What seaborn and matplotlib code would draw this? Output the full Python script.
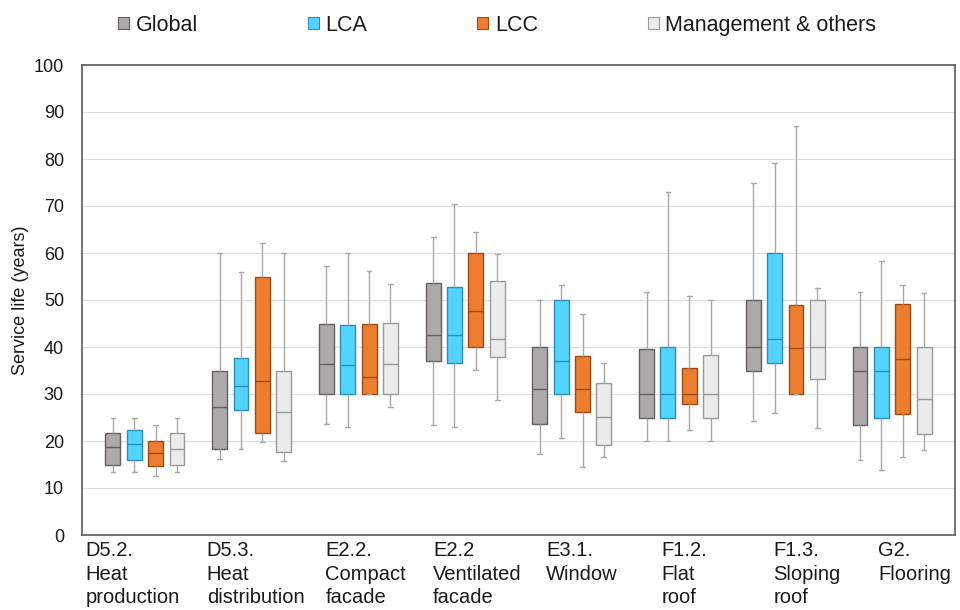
import numpy as np
import pandas as pd
import matplotlib
matplotlib.use("Agg")
import matplotlib.pyplot as plt
import seaborn as sns
from matplotlib.patches import Patch
from matplotlib.transforms import blended_transform_factory

categories = [
    "D5.2.\nHeat\nproduction",
    "D5.3.\nHeat\ndistribution",
    "E2.2.\nCompact\nfacade",
    "E2.2\nVentilated\nfacade",
    "E3.1.\nWindow",
    "F1.2.\nFlat\nroof",
    "F1.3.\nSloping\nroof",
    "G2.\nFlooring",
]
series = ["Global", "LCA", "LCC", "Management & others"]

# five-number summaries per category: [min, Q1, median, Q3, max]
global_stats = [
    [13.3, 15.0, 18.7, 21.8, 25.0],
    [16.2, 18.4, 27.2, 35.0, 60.0],
    [23.6, 30.0, 36.3, 45.0, 57.3],
    [23.5, 37.0, 42.6, 53.7, 63.5],
    [17.2, 23.7, 31.1, 40.0, 50.1],
    [19.9, 25.0, 30.0, 39.6, 51.6],
    [24.2, 34.8, 40.0, 50.0, 74.9],
    [15.9, 23.4, 35.0, 40.0, 51.6],
]
lca_stats = [
    [13.5, 16.0, 19.4, 22.3, 25.0],
    [18.2, 26.7, 31.8, 37.6, 56.0],
    [23.0, 30.0, 36.2, 44.6, 60.0],
    [23.0, 36.5, 42.6, 52.7, 70.4],
    [20.6, 30.0, 37.0, 50.0, 53.1],
    [19.9, 25.0, 30.0, 40.0, 72.9],
    [26.0, 36.7, 41.8, 60.0, 79.2],
    [13.9, 25.0, 35.0, 40.0, 58.4],
]
lcc_stats = [
    [12.6, 14.6, 17.5, 19.9, 23.3],
    [19.7, 21.6, 32.8, 55.0, 62.1],
    [30.0, 30.0, 33.6, 45.0, 56.1],
    [35.2, 40.0, 47.6, 60.0, 64.4],
    [14.4, 26.2, 31.1, 38.0, 47.0],
    [22.4, 27.8, 30.0, 35.5, 50.9],
    [30.0, 30.0, 39.7, 48.9, 87.1],
    [16.5, 25.8, 37.4, 49.2, 53.1],
]
mgmt_stats = [
    [13.3, 15.0, 18.4, 21.6, 25.0],
    [15.7, 17.7, 26.1, 35.0, 60.0],
    [27.2, 30.0, 36.3, 45.2, 53.5],
    [28.7, 37.8, 41.6, 54.0, 59.7],
    [16.5, 19.1, 25.1, 32.3, 36.5],
    [19.9, 25.0, 30.0, 38.3, 50.0],
    [22.7, 33.2, 40.0, 50.0, 52.6],
    [18.0, 21.4, 28.9, 40.0, 51.5],
]

fill_colors = {"Global": "#aeaaaa", "LCA": "#55d3ff", "LCC": "#ed7d31",
               "Management & others": "#ebebeb"}
edge_colors = {"Global": "#646060", "LCA": "#2b8db2", "LCC": "#9c4a16",
               "Management & others": "#9a9a9a"}

# Long-form table: each five-number summary as five observations
rows = []
for s, stats in zip(series, [global_stats, lca_stats, lcc_stats, mgmt_stats]):
    for cat, five in zip(categories, stats):
        for v in five:
            rows.append({"category": cat, "series": s, "value": v})
df = pd.DataFrame(rows)

sns.set_theme(style="white")
plt.rcParams["font.family"] = ["Liberation Sans", "DejaVu Sans"]

fig = plt.figure(figsize=(9.6, 6.1), dpi=100)
ax = fig.add_axes([82 / 960, 75 / 610, 873 / 960, 470 / 610])

for s in series:
    sns.boxplot(
        data=df[df["series"] == s], x="category", y="value", hue="series",
        order=categories, hue_order=series, palette=fill_colors, saturation=1,
        linecolor=edge_colors[s], linewidth=1.0, whis=(0, 100),
        width=0.8, gap=0.3, dodge=True, showfliers=False,
        whiskerprops=dict(color="#a8a8a8", linewidth=1.0),
        capprops=dict(color="#a8a8a8", linewidth=1.0),
        capwidths=0.045, legend=False, ax=ax,
    )

ax.set_xlim(-0.59, 7.59)
ax.set_ylim(0, 100)
ax.set_yticks(range(0, 101, 10))
ax.yaxis.grid(True, color="#dcdcdc", linewidth=0.8)
ax.xaxis.grid(False)
ax.set_axisbelow(True)
for sp in ax.spines.values():
    sp.set_color("#5a5a5a")
    sp.set_linewidth(1.2)
ax.tick_params(axis="y", length=0, pad=13, labelsize=13, labelcolor="#1a1a1a")
ax.tick_params(axis="x", length=0, labelbottom=False)
ax.set_xlabel("")
ax.set_ylabel("Service life (years)", fontsize=13, color="#1a1a1a")
ax.yaxis.set_label_coords(-0.061, 0.5)

label_offsets = [-0.56, -0.42, -0.31, -0.30, -0.24, -0.16, -0.11, -0.13]
trans = blended_transform_factory(ax.transData, ax.transAxes)
for i, (lab, off) in enumerate(zip(categories, label_offsets)):
    ax.text(i + off, -0.013, lab, transform=trans, ha="left", va="top",
            fontsize=14.5, linespacing=1.3, color="#1a1a1a", clip_on=False)

handles = [Patch(facecolor=fill_colors[s], edgecolor=edge_colors[s], linewidth=0.8)
           for s in series]
fig.legend(handles, series, loc="center", bbox_to_anchor=(0.518, 0.959), ncol=4,
           frameon=False, fontsize=15.5, handlelength=0.52, handleheight=0.52,
           handletextpad=0.3, columnspacing=5.1, labelcolor="#1a1a1a")

fig.savefig("out.png", dpi=100)
